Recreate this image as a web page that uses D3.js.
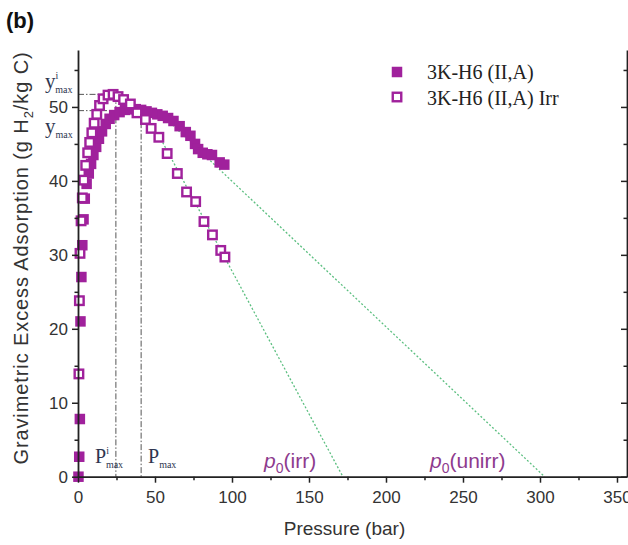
<!DOCTYPE html>
<html>
<head>
<meta charset="utf-8">
<script src="https://cdn.jsdelivr.net/npm/d3@7"></script>
<style>
  html, body { margin: 0; padding: 0; background: #fff; }
  svg { display: block; }
</style>
</head>
<body>
<svg id="chart" width="628" height="545"></svg>
<script>
// ---- Data ----
const unirrP = [0.3, 0.8, 1.2, 1.6, 2.2, 2.8, 3.6, 4.4, 5.6, 7.0, 8.5, 10, 11.8, 13.6, 15.6, 18, 20.5, 23.5, 27, 30.5, 34, 37.5, 41, 44.5, 48, 51.5, 55, 58.5, 62, 66, 70, 73, 76, 78, 81, 84, 87, 92, 95];
const unirrY = [0, 2.7, 7.8, 21, 27, 31.3, 34.8, 37.6, 39.6, 41.0, 42.3, 43.5, 44.6, 45.7, 46.7, 47.7, 48.4, 48.9, 49.3, 49.6, 49.7, 49.7, 49.6, 49.4, 49.2, 49.0, 48.8, 48.5, 48.1, 47.4, 46.6, 46.1, 45.0, 44.3, 43.8, 43.6, 43.5, 42.5, 42.2];
const irrP = [0.6, 0.9, 1.3, 2.0, 2.8, 3.8, 5.0, 6.3, 7.6, 9.0, 10.5, 12.2, 14.0, 16.3, 19.5, 22.8, 26, 29.6, 34, 38.3, 43.8, 47.5, 52.5, 57.9, 64.5, 70.5, 76.4, 81.8, 87.3, 92.7, 95.4];
const irrY = [13.9, 23.8, 30.2, 34.6, 37.7, 40.1, 42.1, 43.8, 45.2, 46.5, 47.8, 49.0, 50.2, 51.1, 51.6, 51.7, 51.4, 51.0, 50.4, 49.2, 48.3, 47.1, 45.9, 43.7, 41.0, 38.5, 37.2, 34.5, 32.7, 30.6, 29.7];
// extrapolation lines (start point, x-intercept p0)
const fitUnirr = [[50, 49.8], [303, 0]];
const fitIrr = [[55, 45.2], [172, 0]];
// maxima
const yMaxI = 51.7, pMaxI = 24.6;
const yMax = 49.5, pMax = 41.0;
const xTicks = [0, 50, 100, 150, 200, 250, 300, 350];
const xMinor = [25, 75, 125, 175, 225, 275, 325];
const yTicks = [0, 10, 20, 30, 40, 50];
const yMinor = [5, 15, 25, 35, 45, 55];
const seriesNames = ["3K-H6 (II,A)", "3K-H6 (II,A) Irr"];

// ---- Layout ----
const svg = d3.select("#chart");
const X0 = 78, X1 = 627, Y0 = 476.7, Y1 = 50;
const x = d3.scaleLinear().domain([0, 356.5]).range([X0, X1]);
const y = d3.scaleLinear().domain([0, 57.7]).range([Y0, Y1]);
const purple = "#a0219c";
const axisColor = "#222";

// dashed max lines
const dash = "6,2,1.5,2";
svg.append("line").attr("x1", x(0)).attr("x2", x(pMaxI)).attr("y1", y(yMaxI)).attr("y2", y(yMaxI))
  .attr("stroke", "#555").attr("stroke-width", 1).attr("stroke-dasharray", dash);
svg.append("line").attr("x1", x(pMaxI)).attr("x2", x(pMaxI)).attr("y1", y(yMaxI)).attr("y2", y(0))
  .attr("stroke", "#555").attr("stroke-width", 1).attr("stroke-dasharray", dash);
svg.append("line").attr("x1", x(0)).attr("x2", x(pMax)).attr("y1", y(yMax)).attr("y2", y(yMax))
  .attr("stroke", "#555").attr("stroke-width", 1).attr("stroke-dasharray", dash);
svg.append("line").attr("x1", x(pMax)).attr("x2", x(pMax)).attr("y1", y(yMax)).attr("y2", y(0))
  .attr("stroke", "#555").attr("stroke-width", 1).attr("stroke-dasharray", dash);

// green extrapolation lines
const line = d3.line().x(d => x(d[0])).y(d => y(d[1]));
[fitUnirr, fitIrr].forEach(f => {
  svg.append("path").attr("d", line(f)).attr("fill", "none")
    .attr("stroke", "#5cbf80").attr("stroke-width", 1.3).attr("stroke-dasharray", "2,2");
});

// data markers
const unirr = unirrP.map((p, i) => [p, unirrY[i]]);
const irr = irrP.map((p, i) => [p, irrY[i]]);
const fs = 10.5, os = 8.5;
svg.append("g").selectAll("rect").data(unirr).join("rect")
  .attr("x", d => x(d[0]) - fs / 2).attr("y", d => y(d[1]) - fs / 2)
  .attr("width", fs).attr("height", fs).attr("fill", purple);
svg.append("g").selectAll("rect").data(irr).join("rect")
  .attr("x", d => x(d[0]) - os / 2).attr("y", d => y(d[1]) - os / 2)
  .attr("width", os).attr("height", os).attr("fill", "#fff")
  .attr("stroke", purple).attr("stroke-width", 2.4);

// axes
const sans = "Liberation Sans, Arial, sans-serif";
function styleAxis(g, labels) {
  g.select(".domain").attr("stroke", axisColor).attr("stroke-width", 1.8);
  g.selectAll(".tick line").attr("stroke", axisColor).attr("stroke-width", 1.5);
  g.selectAll(".tick text").attr("fill", "#333").style("font-family", sans)
    .style("font-size", "17px");
  if (!labels) g.selectAll(".tick text").remove();
}
const gx = svg.append("g").attr("transform", `translate(0,${Y0})`)
  .call(d3.axisBottom(x).tickValues(xTicks).tickSize(6).tickSizeOuter(0).tickPadding(8).tickFormat(d3.format("d")));
styleAxis(gx, true);
const gxm = svg.append("g").attr("transform", `translate(0,${Y0})`)
  .call(d3.axisBottom(x).tickValues(xMinor).tickSize(3.5).tickSizeOuter(0));
styleAxis(gxm, false); gxm.select(".domain").remove();

const gy = svg.append("g").attr("transform", `translate(${X0},0)`)
  .call(d3.axisLeft(y).tickValues(yTicks).tickSize(6).tickSizeOuter(0).tickPadding(4).tickFormat(d3.format("d")));
styleAxis(gy, true);
const gym = svg.append("g").attr("transform", `translate(${X0},0)`)
  .call(d3.axisLeft(y).tickValues(yMinor).tickSize(3.5).tickSizeOuter(0));
styleAxis(gym, false); gym.select(".domain").remove();

const gr = svg.append("g").attr("transform", `translate(${X1},0)`)
  .call(d3.axisLeft(y).tickValues(yTicks).tickSize(6).tickSizeOuter(0));
styleAxis(gr, false);
const grm = svg.append("g").attr("transform", `translate(${X1},0)`)
  .call(d3.axisLeft(y).tickValues(yMinor).tickSize(3.5).tickSizeOuter(0));
styleAxis(grm, false); grm.select(".domain").remove();

// axis titles
svg.append("text").attr("x", (X0 + X1) / 2 - 8).attr("y", 535).attr("text-anchor", "middle")
  .style("font-family", sans).style("font-size", "19px").attr("fill", "#333").text("Pressure (bar)");
const yt = svg.append("text").attr("transform", `translate(28,${258}) rotate(-90)`).attr("text-anchor", "middle")
  .style("font-family", sans).style("font-size", "20px").style("letter-spacing", "0.9px").attr("fill", "#333");
yt.append("tspan").text("Gravimetric Excess Adsorption  (g H");
yt.append("tspan").attr("dy", 5).style("font-size", "13px").text("2");
yt.append("tspan").attr("dy", -5).text("/kg C)");

// panel label
svg.append("text").attr("x", 6).attr("y", 28).style("font-family", sans).style("font-size", "22px")
  .style("font-weight", "bold").attr("fill", "#111").text("(b)");

// legend
const serif = "Liberation Serif, Times New Roman, serif";
svg.append("rect").attr("x", 397 - fs / 2).attr("y", 72 - fs / 2).attr("width", fs).attr("height", fs).attr("fill", purple);
svg.append("rect").attr("x", 397 - os / 2).attr("y", 97 - os / 2).attr("width", os).attr("height", os)
  .attr("fill", "#fff").attr("stroke", purple).attr("stroke-width", 2.4);
seriesNames.forEach((n, i) => {
  svg.append("text").attr("x", 427).attr("y", 79 + i * 25.5).style("font-family", serif).style("font-size", "20px")
    .attr("fill", "#222").text(n);
});

// annotations
function maxLabel(letter, sup, px, py, big) {
  const t = svg.append("text").attr("x", px).attr("y", py).style("font-family", serif).attr("fill", "#2e3650");
  t.append("tspan").style("font-size", big + "px").text(letter);
  if (sup) {
    t.append("tspan").attr("dy", -9).style("font-size", "10px").text(sup);
    t.append("tspan").attr("dx", -3).attr("dy", 14).style("font-size", "10px").text("max");
  } else {
    t.append("tspan").attr("dy", 5).style("font-size", "10px").text("max");
  }
}
maxLabel("y", "i", 45, 88, 21);
maxLabel("y", null, 45, 133, 21);
maxLabel("P", "i", 95, 463, 20);
maxLabel("P", null, 148, 463, 20);

function p0Label(txt, px) {
  const t = svg.append("text").attr("x", px).attr("y", 468).style("font-family", sans).style("font-size", "21px").attr("fill", "#8e3b8e");
  t.append("tspan").style("font-style", "italic").text("p");
  t.append("tspan").attr("dy", 5).style("font-size", "14px").text("0");
  t.append("tspan").attr("dy", -5).text("(" + txt + ")");
}
p0Label("irr", 264);
p0Label("unirr", 430);
</script>
</body>
</html>
